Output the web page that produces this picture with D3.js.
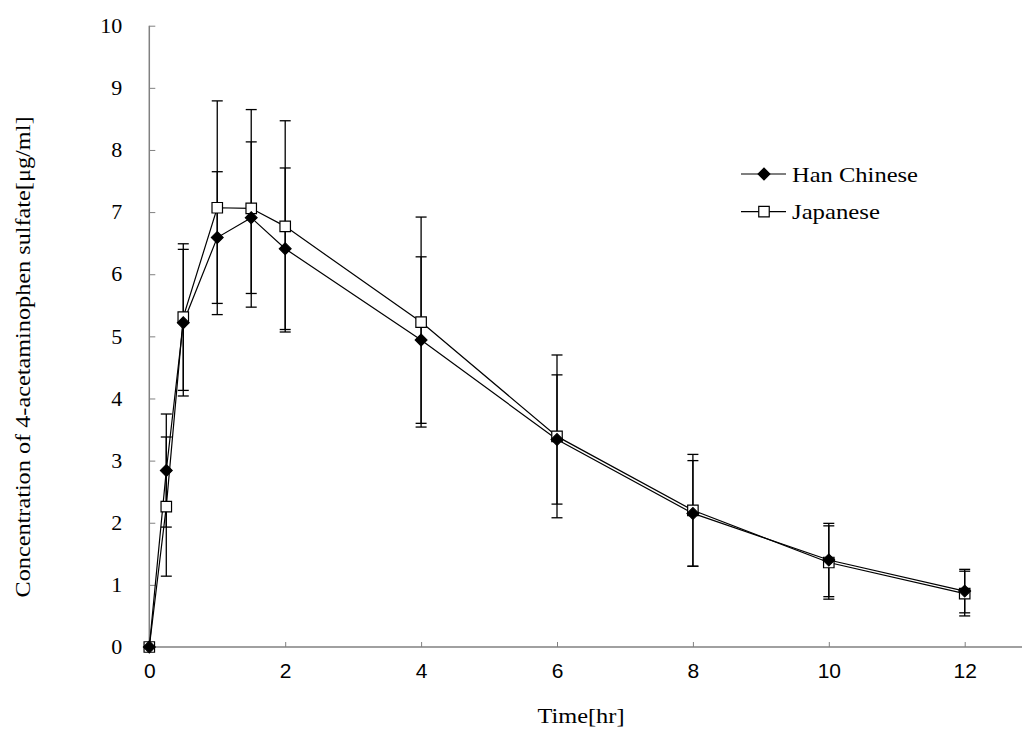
<!DOCTYPE html>
<html>
<head>
<meta charset="utf-8">
<script src="https://cdn.jsdelivr.net/npm/d3@7"></script>
<style>
  body { margin: 0; background: #fff; }
  svg { display: block; }
  .serif { font-family: "Liberation Serif", "Times New Roman", serif; }
  .sans { font-family: "Liberation Sans", Arial, sans-serif; }
</style>
</head>
<body>
<div id="chart"></div>
<script>
// sampling times [hr]
const times = [0, 0.25, 0.5, 1, 1.5, 2, 4, 6, 8, 10, 12];

// Han Chinese mean and SD
const hanMean = [0, 2.84, 5.22, 6.59, 6.91, 6.41, 4.94, 3.34, 2.15, 1.40, 0.90];
const hanSd   = [0, 0.91, 1.18, 1.06, 1.22, 1.30, 1.34, 1.04, 0.85, 0.59, 0.35];

// Japanese mean and SD
const japMean = [0, 2.26, 5.31, 7.07, 7.06, 6.77, 5.23, 3.39, 2.20, 1.36, 0.86];
const japSd   = [0, 1.12, 1.18, 1.72, 1.59, 1.70, 1.69, 1.31, 0.90, 0.59, 0.36];

const xTicks = [0, 2, 4, 6, 8, 10, 12];
const yTicks = [0, 1, 2, 3, 4, 5, 6, 7, 8, 9, 10];
const seriesNames = ["Han Chinese", "Japanese"];

const width = 1022, height = 729;

let svg = d3.select("#chart").append("svg")
  .attr("width", width)
  .attr("height", height);

let x = d3.scaleLinear().domain([0, 13]).range([149.3, 149.3 + 13 * 67.95]);
let y = d3.scaleLinear().domain([0, 10]).range([647, 25.7]);

const axisColor = "#808080";

// x axis
let xAxis = svg.append("g")
  .attr("transform", `translate(0,${y(0)})`)
  .call(d3.axisBottom(x).tickValues(xTicks).tickSize(-5).tickPadding(16).tickFormat(d3.format("d")));
xAxis.attr("font-family", null).attr("font-size", null);
xAxis.select(".domain").attr("stroke", axisColor).attr("stroke-width", 1.5).attr("d", `M${x(0)},0H${x(13)}`);
xAxis.selectAll(".tick line").attr("stroke", axisColor);
xAxis.selectAll("text").attr("class", "sans").attr("font-size", "21px").attr("fill", "#000");

// y axis
let yAxis = svg.append("g")
  .attr("transform", `translate(${x(0)},0)`)
  .call(d3.axisLeft(y).tickValues(yTicks).tickSize(-6).tickPadding(27).tickFormat(d3.format("d")));
yAxis.attr("font-family", null).attr("font-size", null);
yAxis.select(".domain").attr("stroke", axisColor).attr("stroke-width", 1.5).attr("d", `M0,${y(10)}V${y(0)}`);
yAxis.selectAll(".tick line").attr("stroke", axisColor);
yAxis.selectAll("text").attr("class", "serif").attr("font-size", "21px").attr("fill", "#000")
  .attr("textLength", d => d === 10 ? 22 : 11).attr("lengthAdjust", "spacingAndGlyphs");

// axis titles
svg.append("text")
  .attr("class", "serif")
  .attr("x", 581).attr("y", 723)
  .attr("text-anchor", "middle")
  .attr("font-size", "21px")
  .attr("textLength", 87).attr("lengthAdjust", "spacingAndGlyphs")
  .text("Time[hr]");

svg.append("text")
  .attr("class", "serif")
  .attr("transform", "translate(30,357) rotate(-90)")
  .attr("text-anchor", "middle")
  .attr("font-size", "21px")
  .attr("textLength", 481).attr("lengthAdjust", "spacingAndGlyphs")
  .text("Concentration of 4-acetaminophen sulfate[\u03bcg/ml]");

function makeRows(means, sds) {
  return times.map(function(t, i) { return {t: t, v: means[i], sd: sds[i]}; });
}

let hanData = makeRows(hanMean, hanSd),
    japData = makeRows(japMean, japSd);

let line = d3.line().x(d => x(d.t)).y(d => y(d.v));

function drawErrorBars(data) {
  let g = svg.append("g").attr("stroke", "#000").attr("stroke-width", 1.3);
  data.filter(d => d.sd > 0).forEach(function(d) {
    let cx = x(d.t);
    g.append("line").attr("x1", cx).attr("x2", cx).attr("y1", y(d.v + d.sd)).attr("y2", y(d.v - d.sd));
    [d.v + d.sd, d.v - d.sd].forEach(function(e) {
      g.append("line").attr("x1", cx - 5.5).attr("x2", cx + 5.5).attr("y1", y(e)).attr("y2", y(e));
    });
  });
}

drawErrorBars(japData);
drawErrorBars(hanData);

// Japanese series first, Han Chinese on top
svg.append("path").datum(japData)
  .attr("d", line).attr("fill", "none").attr("stroke", "#000").attr("stroke-width", 1.2);
svg.append("path").datum(hanData)
  .attr("d", line).attr("fill", "none").attr("stroke", "#000").attr("stroke-width", 1.2);

// square marker, and a square turned 45 degrees for the diamond
let square = d3.symbol().type(d3.symbolSquare).size(110),
    diamond = d3.symbol().type(d3.symbolSquare).size(72);

svg.append("g").selectAll("path").data(japData).enter().append("path")
  .attr("transform", d => `translate(${x(d.t)},${y(d.v)})`)
  .attr("d", square).attr("fill", "#fff").attr("stroke", "#000").attr("stroke-width", 1.2);

svg.append("g").selectAll("path").data(hanData).enter().append("path")
  .attr("transform", d => `translate(${x(d.t)},${y(d.v)}) rotate(45)`)
  .attr("d", diamond).attr("fill", "#000").attr("stroke", "#000").attr("stroke-width", 1);

// legend
let legend = svg.append("g");
seriesNames.forEach(function(name, i) {
  let ly = 174 + i * 37.7;
  legend.append("line").attr("x1", 741).attr("x2", 786).attr("y1", ly).attr("y2", ly)
    .attr("stroke", "#000").attr("stroke-width", 1.2);
  legend.append("path")
    .attr("transform", i === 0 ? `translate(764,${ly}) rotate(45)` : `translate(764,${ly})`)
    .attr("d", i === 0 ? diamond : square)
    .attr("fill", i === 0 ? "#000" : "#fff")
    .attr("stroke", "#000").attr("stroke-width", i === 0 ? 1 : 1.2);
  legend.append("text")
    .attr("class", "serif")
    .attr("x", 792).attr("y", ly + 7.5)
    .attr("font-size", "21px")
    .attr("textLength", i === 0 ? 126 : 88).attr("lengthAdjust", "spacingAndGlyphs")
    .text(name);
});
</script>
</body>
</html>
